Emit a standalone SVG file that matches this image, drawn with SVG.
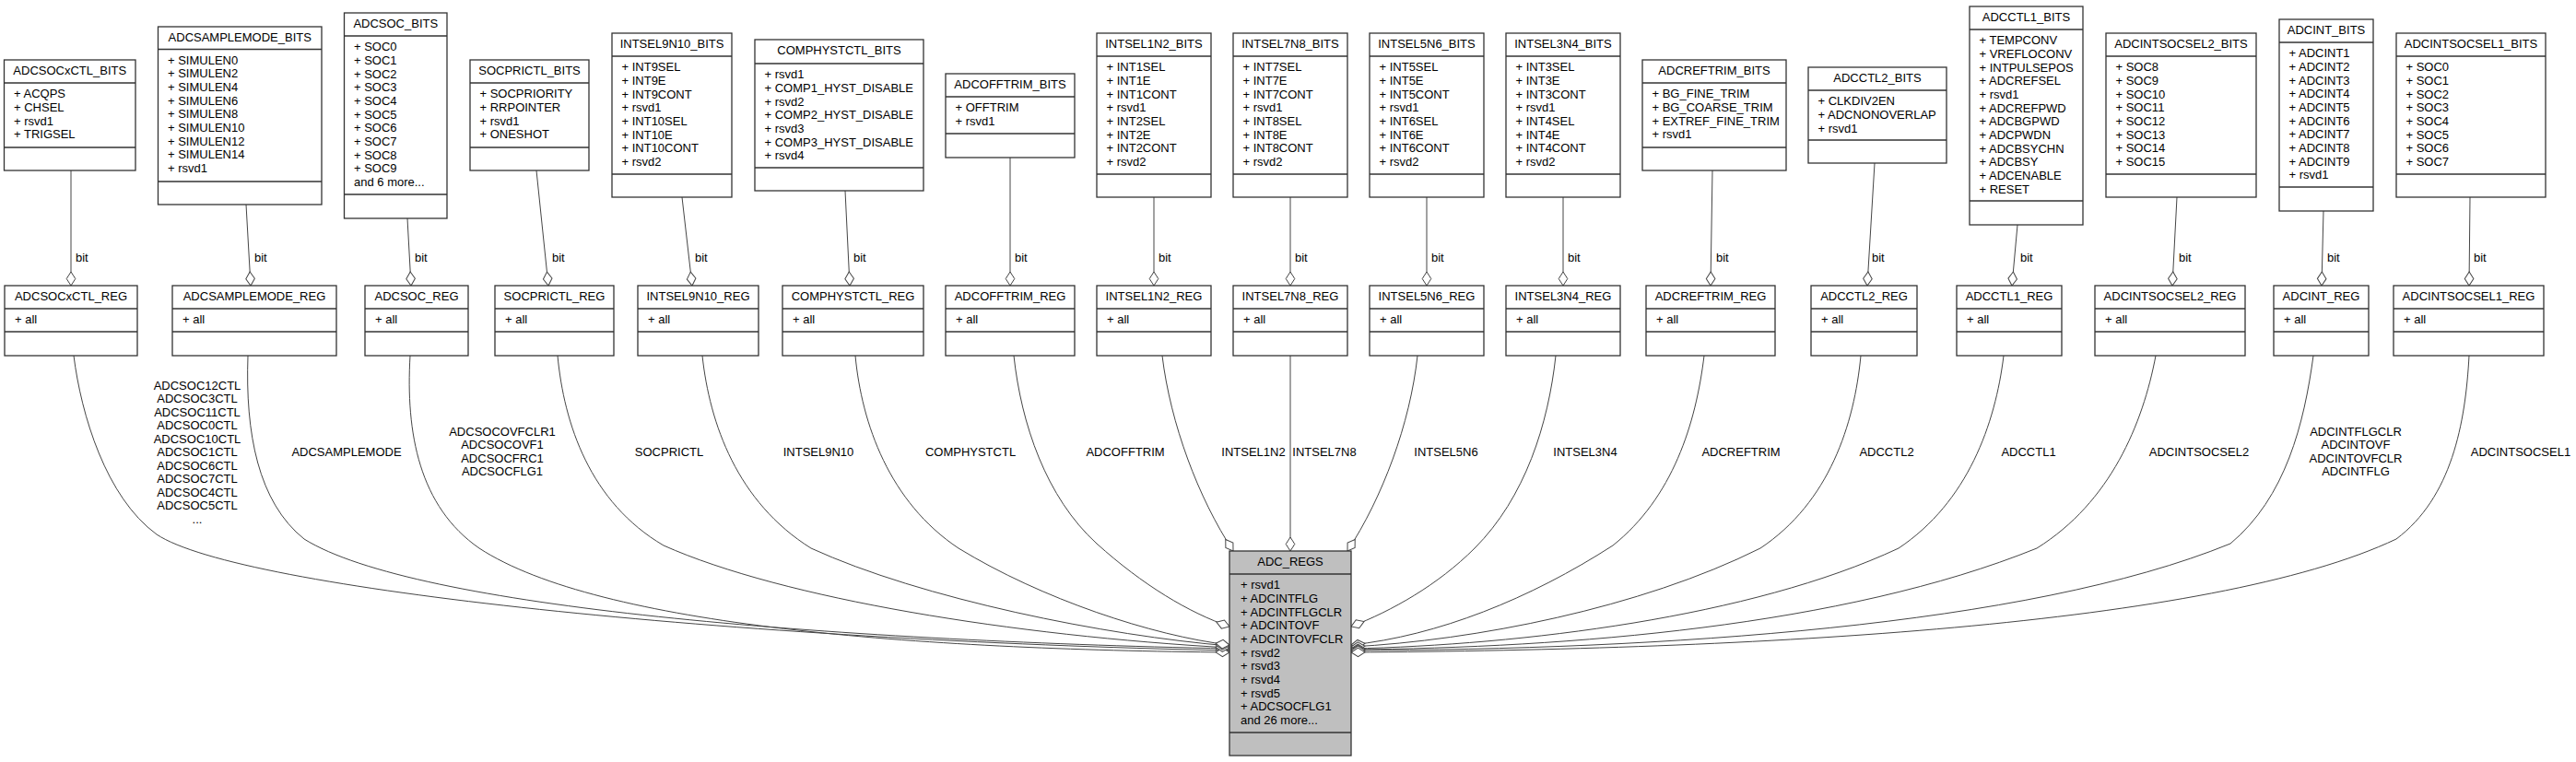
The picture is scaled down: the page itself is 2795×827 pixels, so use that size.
<svg xmlns="http://www.w3.org/2000/svg" width="2795" height="827" viewBox="0 0 2795 827">
<style>
text{font-family:"Liberation Sans",Arial,sans-serif;font-size:13px;fill:#000}
.t{text-anchor:middle}
.b{fill:#fff;stroke:#333;stroke-width:1.3}
.m{fill:#bfbfbf;stroke:#333;stroke-width:1.3}
.s{stroke:#333;stroke-width:1.3}
.e{fill:none;stroke:#454545;stroke-width:1;marker-end:url(#dia)}
</style>
<defs>
<marker id="dia" markerUnits="userSpaceOnUse" viewBox="-1 -6 17 12" markerWidth="17" markerHeight="12" refX="15" refY="0" orient="auto">
<path d="M0,0 L7.5,-4.8 L15,0 L7.5,4.8 Z" fill="#fff" stroke="#454545" stroke-width="1"/>
</marker>
</defs>
<rect width="2795" height="827" fill="#fff"/>

<g id="connectors">
<!-- BITS to REG -->
<path class="e" d="M77,185 L77,310"/>
<path class="e" d="M267,222 L272,310"/>
<path class="e" d="M442,237 L446,310"/>
<path class="e" d="M582,185 L595,310"/>
<path class="e" d="M740,214 L751,310"/>
<path class="e" d="M917,207 L922,310"/>
<path class="e" d="M1096,171 L1096,310"/>
<path class="e" d="M1252,214 L1252,310"/>
<path class="e" d="M1400,214 L1400,310"/>
<path class="e" d="M1548,214 L1548,310"/>
<path class="e" d="M1696,214 L1696,310"/>
<path class="e" d="M1858,185 L1856,310"/>
<path class="e" d="M2034,177 L2026,310"/>
<path class="e" d="M2189,244 L2183,310"/>
<path class="e" d="M2362,214 L2357,310"/>
<path class="e" d="M2521,229 L2519,310"/>
<path class="e" d="M2680,214 L2679,310"/>
<g>
<text x="82" y="284">bit</text>
<text x="276" y="284">bit</text>
<text x="450" y="284">bit</text>
<text x="599" y="284">bit</text>
<text x="754" y="284">bit</text>
<text x="926" y="284">bit</text>
<text x="1101" y="284">bit</text>
<text x="1257" y="284">bit</text>
<text x="1405" y="284">bit</text>
<text x="1553" y="284">bit</text>
<text x="1701" y="284">bit</text>
<text x="1862" y="284">bit</text>
<text x="2031" y="284">bit</text>
<text x="2192" y="284">bit</text>
<text x="2364" y="284">bit</text>
<text x="2525" y="284">bit</text>
<text x="2684" y="284">bit</text>
</g>
<!-- REG to ADC_REGS -->
<path class="e" d="M80,386 C88,450 115,540 170,580 C260,640 800,695 1334,706"/>
<path class="e" d="M269,386 C266,470 280,545 330,585 C450,660 900,695 1334,704"/>
<path class="e" d="M445,386 C440,470 455,550 520,595 C650,680 1000,705 1334,708"/>
<path class="e" d="M605,386 C612,460 640,545 720,592 C850,650 1100,690 1334,703"/>
<path class="e" d="M762,386 C770,460 800,545 880,595 C1000,650 1200,690 1334,701"/>
<path class="e" d="M928,386 C935,460 965,545 1040,595 C1130,650 1250,690 1334,700"/>
<path class="e" d="M1100,386 C1108,460 1135,540 1190,590 C1240,635 1290,665 1334,680"/>
<path class="e" d="M1261,386 C1270,460 1300,540 1338,598"/>
<path class="e" d="M1400,386 L1400,598"/>
<path class="e" d="M1538,386 C1530,460 1500,540 1462,598"/>
<path class="e" d="M1688,386 C1680,460 1655,540 1600,595 C1560,635 1510,663 1466,680"/>
<path class="e" d="M1849,386 C1840,460 1815,540 1750,592 C1660,650 1560,690 1466,700"/>
<path class="e" d="M2019,386 C2012,460 1985,545 1910,595 C1780,660 1600,695 1466,702"/>
<path class="e" d="M2174,386 C2165,460 2135,545 2060,595 C1900,670 1650,700 1466,704"/>
<path class="e" d="M2339,386 C2325,460 2290,545 2210,595 C2000,680 1700,703 1466,705"/>
<path class="e" d="M2510,386 C2500,460 2480,540 2420,590 C2200,680 1800,705 1466,706"/>
<path class="e" d="M2679,386 C2675,460 2660,540 2600,585 C2400,680 1900,705 1466,708"/>
<g class="t">
<text class="t" x="214"><tspan x="214" y="422.5">ADCSOC12CTL</tspan><tspan x="214" dy="14.5">ADCSOC3CTL</tspan><tspan x="214" dy="14.5">ADCSOC11CTL</tspan><tspan x="214" dy="14.5">ADCSOC0CTL</tspan><tspan x="214" dy="14.5">ADCSOC10CTL</tspan><tspan x="214" dy="14.5">ADCSOC1CTL</tspan><tspan x="214" dy="14.5">ADCSOC6CTL</tspan><tspan x="214" dy="14.5">ADCSOC7CTL</tspan><tspan x="214" dy="14.5">ADCSOC4CTL</tspan><tspan x="214" dy="14.5">ADCSOC5CTL</tspan><tspan x="214" dy="14.5">...</tspan></text>
<text class="t" x="376" y="494.5">ADCSAMPLEMODE</text>
<text class="t" x="545"><tspan x="545" y="472.5">ADCSOCOVFCLR1</tspan><tspan x="545" dy="14.5">ADCSOCOVF1</tspan><tspan x="545" dy="14.5">ADCSOCFRC1</tspan><tspan x="545" dy="14.5">ADCSOCFLG1</tspan></text>
<text class="t" x="726" y="494.5">SOCPRICTL</text>
<text class="t" x="888" y="494.5">INTSEL9N10</text>
<text class="t" x="1053" y="494.5">COMPHYSTCTL</text>
<text class="t" x="1221" y="494.5">ADCOFFTRIM</text>
<text class="t" x="1360" y="494.5">INTSEL1N2</text>
<text class="t" x="1437" y="494.5">INTSEL7N8</text>
<text class="t" x="1569" y="494.5">INTSEL5N6</text>
<text class="t" x="1720" y="494.5">INTSEL3N4</text>
<text class="t" x="1889" y="494.5">ADCREFTRIM</text>
<text class="t" x="2047" y="494.5">ADCCTL2</text>
<text class="t" x="2201" y="494.5">ADCCTL1</text>
<text class="t" x="2386" y="494.5">ADCINTSOCSEL2</text>
<text class="t" x="2556"><tspan x="2556" y="472.5">ADCINTFLGCLR</tspan><tspan x="2556" dy="14.5">ADCINTOVF</tspan><tspan x="2556" dy="14.5">ADCINTOVFCLR</tspan><tspan x="2556" dy="14.5">ADCINTFLG</tspan></text>
<text class="t" x="2735" y="494.5">ADCINTSOCSEL1</text>
</g>
</g>

<!-- BITS nodes -->
<g id="ADCSOCxCTL_BITS">
<rect class="b" x="4.5" y="65" width="142.5" height="120"/>
<line class="s" x1="4.5" y1="90" x2="147" y2="90"/><line class="s" x1="4.5" y1="160" x2="147" y2="160"/>
<text class="t" x="75.75" y="81.3">ADCSOCxCTL_BITS</text>
<text x="15"><tspan x="15" y="106.3">+ ACQPS</tspan><tspan x="15" dy="14.67">+ CHSEL</tspan><tspan x="15" dy="14.67">+ rsvd1</tspan><tspan x="15" dy="14.67">+ TRIGSEL</tspan></text>
</g>
<g id="ADCSAMPLEMODE_BITS">
<rect class="b" x="171.5" y="29" width="177.5" height="193"/>
<line class="s" x1="171.5" y1="53.5" x2="349" y2="53.5"/><line class="s" x1="171.5" y1="197" x2="349" y2="197"/>
<text class="t" x="260.25" y="45.3">ADCSAMPLEMODE_BITS</text>
<text x="182"><tspan x="182" y="69.8">+ SIMULEN0</tspan><tspan x="182" dy="14.67">+ SIMULEN2</tspan><tspan x="182" dy="14.67">+ SIMULEN4</tspan><tspan x="182" dy="14.67">+ SIMULEN6</tspan><tspan x="182" dy="14.67">+ SIMULEN8</tspan><tspan x="182" dy="14.67">+ SIMULEN10</tspan><tspan x="182" dy="14.67">+ SIMULEN12</tspan><tspan x="182" dy="14.67">+ SIMULEN14</tspan><tspan x="182" dy="14.67">+ rsvd1</tspan></text>
</g>
<g id="ADCSOC_BITS">
<rect class="b" x="373.5" y="14" width="111.5" height="223"/>
<line class="s" x1="373.5" y1="39" x2="485" y2="39"/><line class="s" x1="373.5" y1="211" x2="485" y2="211"/>
<text class="t" x="429.25" y="30.3">ADCSOC_BITS</text>
<text x="384"><tspan x="384" y="55.3">+ SOC0</tspan><tspan x="384" dy="14.67">+ SOC1</tspan><tspan x="384" dy="14.67">+ SOC2</tspan><tspan x="384" dy="14.67">+ SOC3</tspan><tspan x="384" dy="14.67">+ SOC4</tspan><tspan x="384" dy="14.67">+ SOC5</tspan><tspan x="384" dy="14.67">+ SOC6</tspan><tspan x="384" dy="14.67">+ SOC7</tspan><tspan x="384" dy="14.67">+ SOC8</tspan><tspan x="384" dy="14.67">+ SOC9</tspan><tspan x="384" dy="14.67">and 6 more...</tspan></text>
</g>
<g id="SOCPRICTL_BITS">
<rect class="b" x="510" y="65" width="129" height="120"/>
<line class="s" x1="510" y1="90" x2="639" y2="90"/><line class="s" x1="510" y1="160" x2="639" y2="160"/>
<text class="t" x="574.5" y="81.3">SOCPRICTL_BITS</text>
<text x="520.5"><tspan x="520.5" y="106.3">+ SOCPRIORITY</tspan><tspan x="520.5" dy="14.67">+ RRPOINTER</tspan><tspan x="520.5" dy="14.67">+ rsvd1</tspan><tspan x="520.5" dy="14.67">+ ONESHOT</tspan></text>
</g>
<g id="INTSEL9N10_BITS">
<rect class="b" x="664" y="36" width="130" height="178"/>
<line class="s" x1="664" y1="61" x2="794" y2="61"/><line class="s" x1="664" y1="189" x2="794" y2="189"/>
<text class="t" x="729" y="52.3">INTSEL9N10_BITS</text>
<text x="674.5"><tspan x="674.5" y="77.3">+ INT9SEL</tspan><tspan x="674.5" dy="14.67">+ INT9E</tspan><tspan x="674.5" dy="14.67">+ INT9CONT</tspan><tspan x="674.5" dy="14.67">+ rsvd1</tspan><tspan x="674.5" dy="14.67">+ INT10SEL</tspan><tspan x="674.5" dy="14.67">+ INT10E</tspan><tspan x="674.5" dy="14.67">+ INT10CONT</tspan><tspan x="674.5" dy="14.67">+ rsvd2</tspan></text>
</g>
<g id="COMPHYSTCTL_BITS">
<rect class="b" x="819" y="43" width="183" height="164"/>
<line class="s" x1="819" y1="69" x2="1002" y2="69"/><line class="s" x1="819" y1="182" x2="1002" y2="182"/>
<text class="t" x="910.5" y="59.3">COMPHYSTCTL_BITS</text>
<text x="829.5"><tspan x="829.5" y="85.3">+ rsvd1</tspan><tspan x="829.5" dy="14.67">+ COMP1_HYST_DISABLE</tspan><tspan x="829.5" dy="14.67">+ rsvd2</tspan><tspan x="829.5" dy="14.67">+ COMP2_HYST_DISABLE</tspan><tspan x="829.5" dy="14.67">+ rsvd3</tspan><tspan x="829.5" dy="14.67">+ COMP3_HYST_DISABLE</tspan><tspan x="829.5" dy="14.67">+ rsvd4</tspan></text>
</g>
<g id="ADCOFFTRIM_BITS">
<rect class="b" x="1026" y="80" width="140" height="91"/>
<line class="s" x1="1026" y1="105" x2="1166" y2="105"/><line class="s" x1="1026" y1="145" x2="1166" y2="145"/>
<text class="t" x="1096" y="96.3">ADCOFFTRIM_BITS</text>
<text x="1036.5"><tspan x="1036.5" y="121.3">+ OFFTRIM</tspan><tspan x="1036.5" dy="14.67">+ rsvd1</tspan></text>
</g>
<g id="INTSEL1N2_BITS">
<rect class="b" x="1190" y="36" width="124" height="178"/>
<line class="s" x1="1190" y1="61" x2="1314" y2="61"/><line class="s" x1="1190" y1="189" x2="1314" y2="189"/>
<text class="t" x="1252" y="52.3">INTSEL1N2_BITS</text>
<text x="1200.5"><tspan x="1200.5" y="77.3">+ INT1SEL</tspan><tspan x="1200.5" dy="14.67">+ INT1E</tspan><tspan x="1200.5" dy="14.67">+ INT1CONT</tspan><tspan x="1200.5" dy="14.67">+ rsvd1</tspan><tspan x="1200.5" dy="14.67">+ INT2SEL</tspan><tspan x="1200.5" dy="14.67">+ INT2E</tspan><tspan x="1200.5" dy="14.67">+ INT2CONT</tspan><tspan x="1200.5" dy="14.67">+ rsvd2</tspan></text>
</g>
<g id="INTSEL7N8_BITS">
<rect class="b" x="1338" y="36" width="124" height="178"/>
<line class="s" x1="1338" y1="61" x2="1462" y2="61"/><line class="s" x1="1338" y1="189" x2="1462" y2="189"/>
<text class="t" x="1400" y="52.3">INTSEL7N8_BITS</text>
<text x="1348.5"><tspan x="1348.5" y="77.3">+ INT7SEL</tspan><tspan x="1348.5" dy="14.67">+ INT7E</tspan><tspan x="1348.5" dy="14.67">+ INT7CONT</tspan><tspan x="1348.5" dy="14.67">+ rsvd1</tspan><tspan x="1348.5" dy="14.67">+ INT8SEL</tspan><tspan x="1348.5" dy="14.67">+ INT8E</tspan><tspan x="1348.5" dy="14.67">+ INT8CONT</tspan><tspan x="1348.5" dy="14.67">+ rsvd2</tspan></text>
</g>
<g id="INTSEL5N6_BITS">
<rect class="b" x="1486" y="36" width="124" height="178"/>
<line class="s" x1="1486" y1="61" x2="1610" y2="61"/><line class="s" x1="1486" y1="189" x2="1610" y2="189"/>
<text class="t" x="1548" y="52.3">INTSEL5N6_BITS</text>
<text x="1496.5"><tspan x="1496.5" y="77.3">+ INT5SEL</tspan><tspan x="1496.5" dy="14.67">+ INT5E</tspan><tspan x="1496.5" dy="14.67">+ INT5CONT</tspan><tspan x="1496.5" dy="14.67">+ rsvd1</tspan><tspan x="1496.5" dy="14.67">+ INT6SEL</tspan><tspan x="1496.5" dy="14.67">+ INT6E</tspan><tspan x="1496.5" dy="14.67">+ INT6CONT</tspan><tspan x="1496.5" dy="14.67">+ rsvd2</tspan></text>
</g>
<g id="INTSEL3N4_BITS">
<rect class="b" x="1634" y="36" width="124" height="178"/>
<line class="s" x1="1634" y1="61" x2="1758" y2="61"/><line class="s" x1="1634" y1="189" x2="1758" y2="189"/>
<text class="t" x="1696" y="52.3">INTSEL3N4_BITS</text>
<text x="1644.5"><tspan x="1644.5" y="77.3">+ INT3SEL</tspan><tspan x="1644.5" dy="14.67">+ INT3E</tspan><tspan x="1644.5" dy="14.67">+ INT3CONT</tspan><tspan x="1644.5" dy="14.67">+ rsvd1</tspan><tspan x="1644.5" dy="14.67">+ INT4SEL</tspan><tspan x="1644.5" dy="14.67">+ INT4E</tspan><tspan x="1644.5" dy="14.67">+ INT4CONT</tspan><tspan x="1644.5" dy="14.67">+ rsvd2</tspan></text>
</g>
<g id="ADCREFTRIM_BITS">
<rect class="b" x="1782" y="65" width="156" height="120"/>
<line class="s" x1="1782" y1="90" x2="1938" y2="90"/><line class="s" x1="1782" y1="160" x2="1938" y2="160"/>
<text class="t" x="1860" y="81.3">ADCREFTRIM_BITS</text>
<text x="1792.5"><tspan x="1792.5" y="106.3">+ BG_FINE_TRIM</tspan><tspan x="1792.5" dy="14.67">+ BG_COARSE_TRIM</tspan><tspan x="1792.5" dy="14.67">+ EXTREF_FINE_TRIM</tspan><tspan x="1792.5" dy="14.67">+ rsvd1</tspan></text>
</g>
<g id="ADCCTL2_BITS">
<rect class="b" x="1962" y="73" width="150" height="104"/>
<line class="s" x1="1962" y1="98" x2="2112" y2="98"/><line class="s" x1="1962" y1="152" x2="2112" y2="152"/>
<text class="t" x="2037" y="89.3">ADCCTL2_BITS</text>
<text x="1972.5"><tspan x="1972.5" y="114.3">+ CLKDIV2EN</tspan><tspan x="1972.5" dy="14.67">+ ADCNONOVERLAP</tspan><tspan x="1972.5" dy="14.67">+ rsvd1</tspan></text>
</g>
<g id="ADCCTL1_BITS">
<rect class="b" x="2137" y="7" width="123" height="237"/>
<line class="s" x1="2137" y1="32" x2="2260" y2="32"/><line class="s" x1="2137" y1="218" x2="2260" y2="218"/>
<text class="t" x="2198.5" y="23.3">ADCCTL1_BITS</text>
<text x="2147.5"><tspan x="2147.5" y="48.3">+ TEMPCONV</tspan><tspan x="2147.5" dy="14.67">+ VREFLOCONV</tspan><tspan x="2147.5" dy="14.67">+ INTPULSEPOS</tspan><tspan x="2147.5" dy="14.67">+ ADCREFSEL</tspan><tspan x="2147.5" dy="14.67">+ rsvd1</tspan><tspan x="2147.5" dy="14.67">+ ADCREFPWD</tspan><tspan x="2147.5" dy="14.67">+ ADCBGPWD</tspan><tspan x="2147.5" dy="14.67">+ ADCPWDN</tspan><tspan x="2147.5" dy="14.67">+ ADCBSYCHN</tspan><tspan x="2147.5" dy="14.67">+ ADCBSY</tspan><tspan x="2147.5" dy="14.67">+ ADCENABLE</tspan><tspan x="2147.5" dy="14.67">+ RESET</tspan></text>
</g>
<g id="ADCINTSOCSEL2_BITS">
<rect class="b" x="2285" y="36" width="163" height="178"/>
<line class="s" x1="2285" y1="61" x2="2448" y2="61"/><line class="s" x1="2285" y1="189" x2="2448" y2="189"/>
<text class="t" x="2366.5" y="52.3">ADCINTSOCSEL2_BITS</text>
<text x="2295.5"><tspan x="2295.5" y="77.3">+ SOC8</tspan><tspan x="2295.5" dy="14.67">+ SOC9</tspan><tspan x="2295.5" dy="14.67">+ SOC10</tspan><tspan x="2295.5" dy="14.67">+ SOC11</tspan><tspan x="2295.5" dy="14.67">+ SOC12</tspan><tspan x="2295.5" dy="14.67">+ SOC13</tspan><tspan x="2295.5" dy="14.67">+ SOC14</tspan><tspan x="2295.5" dy="14.67">+ SOC15</tspan></text>
</g>
<g id="ADCINT_BITS">
<rect class="b" x="2473" y="21" width="102" height="208"/>
<line class="s" x1="2473" y1="46" x2="2575" y2="46"/><line class="s" x1="2473" y1="203" x2="2575" y2="203"/>
<text class="t" x="2524" y="37.3">ADCINT_BITS</text>
<text x="2483.5"><tspan x="2483.5" y="62.3">+ ADCINT1</tspan><tspan x="2483.5" dy="14.67">+ ADCINT2</tspan><tspan x="2483.5" dy="14.67">+ ADCINT3</tspan><tspan x="2483.5" dy="14.67">+ ADCINT4</tspan><tspan x="2483.5" dy="14.67">+ ADCINT5</tspan><tspan x="2483.5" dy="14.67">+ ADCINT6</tspan><tspan x="2483.5" dy="14.67">+ ADCINT7</tspan><tspan x="2483.5" dy="14.67">+ ADCINT8</tspan><tspan x="2483.5" dy="14.67">+ ADCINT9</tspan><tspan x="2483.5" dy="14.67">+ rsvd1</tspan></text>
</g>
<g id="ADCINTSOCSEL1_BITS">
<rect class="b" x="2600" y="36" width="162" height="178"/>
<line class="s" x1="2600" y1="61" x2="2762" y2="61"/><line class="s" x1="2600" y1="189" x2="2762" y2="189"/>
<text class="t" x="2681" y="52.3">ADCINTSOCSEL1_BITS</text>
<text x="2610.5"><tspan x="2610.5" y="77.3">+ SOC0</tspan><tspan x="2610.5" dy="14.67">+ SOC1</tspan><tspan x="2610.5" dy="14.67">+ SOC2</tspan><tspan x="2610.5" dy="14.67">+ SOC3</tspan><tspan x="2610.5" dy="14.67">+ SOC4</tspan><tspan x="2610.5" dy="14.67">+ SOC5</tspan><tspan x="2610.5" dy="14.67">+ SOC6</tspan><tspan x="2610.5" dy="14.67">+ SOC7</tspan></text>
</g>

<!-- REG nodes -->
<g id="ADCSOCxCTL_REG"><rect class="b" x="5" y="310" width="144" height="76"/><line class="s" x1="5" y1="335" x2="149" y2="335"/><line class="s" x1="5" y1="360" x2="149" y2="360"/><text class="t" x="77" y="326.3">ADCSOCxCTL_REG</text><text x="16" y="351.3">+ all</text></g>
<g id="ADCSAMPLEMODE_REG"><rect class="b" x="187" y="310" width="178" height="76"/><line class="s" x1="187" y1="335" x2="365" y2="335"/><line class="s" x1="187" y1="360" x2="365" y2="360"/><text class="t" x="276" y="326.3">ADCSAMPLEMODE_REG</text><text x="198" y="351.3">+ all</text></g>
<g id="ADCSOC_REG"><rect class="b" x="396" y="310" width="112" height="76"/><line class="s" x1="396" y1="335" x2="508" y2="335"/><line class="s" x1="396" y1="360" x2="508" y2="360"/><text class="t" x="452" y="326.3">ADCSOC_REG</text><text x="407" y="351.3">+ all</text></g>
<g id="SOCPRICTL_REG"><rect class="b" x="537" y="310" width="129" height="76"/><line class="s" x1="537" y1="335" x2="666" y2="335"/><line class="s" x1="537" y1="360" x2="666" y2="360"/><text class="t" x="601.5" y="326.3">SOCPRICTL_REG</text><text x="548" y="351.3">+ all</text></g>
<g id="INTSEL9N10_REG"><rect class="b" x="692" y="310" width="131" height="76"/><line class="s" x1="692" y1="335" x2="823" y2="335"/><line class="s" x1="692" y1="360" x2="823" y2="360"/><text class="t" x="757.5" y="326.3">INTSEL9N10_REG</text><text x="703" y="351.3">+ all</text></g>
<g id="COMPHYSTCTL_REG"><rect class="b" x="849" y="310" width="153" height="76"/><line class="s" x1="849" y1="335" x2="1002" y2="335"/><line class="s" x1="849" y1="360" x2="1002" y2="360"/><text class="t" x="925.5" y="326.3">COMPHYSTCTL_REG</text><text x="860" y="351.3">+ all</text></g>
<g id="ADCOFFTRIM_REG"><rect class="b" x="1026" y="310" width="140" height="76"/><line class="s" x1="1026" y1="335" x2="1166" y2="335"/><line class="s" x1="1026" y1="360" x2="1166" y2="360"/><text class="t" x="1096" y="326.3">ADCOFFTRIM_REG</text><text x="1037" y="351.3">+ all</text></g>
<g id="INTSEL1N2_REG"><rect class="b" x="1190" y="310" width="124" height="76"/><line class="s" x1="1190" y1="335" x2="1314" y2="335"/><line class="s" x1="1190" y1="360" x2="1314" y2="360"/><text class="t" x="1252" y="326.3">INTSEL1N2_REG</text><text x="1201" y="351.3">+ all</text></g>
<g id="INTSEL7N8_REG"><rect class="b" x="1338" y="310" width="124" height="76"/><line class="s" x1="1338" y1="335" x2="1462" y2="335"/><line class="s" x1="1338" y1="360" x2="1462" y2="360"/><text class="t" x="1400" y="326.3">INTSEL7N8_REG</text><text x="1349" y="351.3">+ all</text></g>
<g id="INTSEL5N6_REG"><rect class="b" x="1486" y="310" width="124" height="76"/><line class="s" x1="1486" y1="335" x2="1610" y2="335"/><line class="s" x1="1486" y1="360" x2="1610" y2="360"/><text class="t" x="1548" y="326.3">INTSEL5N6_REG</text><text x="1497" y="351.3">+ all</text></g>
<g id="INTSEL3N4_REG"><rect class="b" x="1634" y="310" width="124" height="76"/><line class="s" x1="1634" y1="335" x2="1758" y2="335"/><line class="s" x1="1634" y1="360" x2="1758" y2="360"/><text class="t" x="1696" y="326.3">INTSEL3N4_REG</text><text x="1645" y="351.3">+ all</text></g>
<g id="ADCREFTRIM_REG"><rect class="b" x="1786" y="310" width="140" height="76"/><line class="s" x1="1786" y1="335" x2="1926" y2="335"/><line class="s" x1="1786" y1="360" x2="1926" y2="360"/><text class="t" x="1856" y="326.3">ADCREFTRIM_REG</text><text x="1797" y="351.3">+ all</text></g>
<g id="ADCCTL2_REG"><rect class="b" x="1965" y="310" width="115" height="76"/><line class="s" x1="1965" y1="335" x2="2080" y2="335"/><line class="s" x1="1965" y1="360" x2="2080" y2="360"/><text class="t" x="2022.5" y="326.3">ADCCTL2_REG</text><text x="1976" y="351.3">+ all</text></g>
<g id="ADCCTL1_REG"><rect class="b" x="2123" y="310" width="114" height="76"/><line class="s" x1="2123" y1="335" x2="2237" y2="335"/><line class="s" x1="2123" y1="360" x2="2237" y2="360"/><text class="t" x="2180" y="326.3">ADCCTL1_REG</text><text x="2134" y="351.3">+ all</text></g>
<g id="ADCINTSOCSEL2_REG"><rect class="b" x="2273" y="310" width="163" height="76"/><line class="s" x1="2273" y1="335" x2="2436" y2="335"/><line class="s" x1="2273" y1="360" x2="2436" y2="360"/><text class="t" x="2354.5" y="326.3">ADCINTSOCSEL2_REG</text><text x="2284" y="351.3">+ all</text></g>
<g id="ADCINT_REG"><rect class="b" x="2467" y="310" width="103" height="76"/><line class="s" x1="2467" y1="335" x2="2570" y2="335"/><line class="s" x1="2467" y1="360" x2="2570" y2="360"/><text class="t" x="2518.5" y="326.3">ADCINT_REG</text><text x="2478" y="351.3">+ all</text></g>
<g id="ADCINTSOCSEL1_REG"><rect class="b" x="2597" y="310" width="163" height="76"/><line class="s" x1="2597" y1="335" x2="2760" y2="335"/><line class="s" x1="2597" y1="360" x2="2760" y2="360"/><text class="t" x="2678.5" y="326.3">ADCINTSOCSEL1_REG</text><text x="2608" y="351.3">+ all</text></g>

<g id="ADC_REGS">
<rect class="m" x="1334" y="598" width="132" height="222"/>
<line class="s" x1="1334" y1="623" x2="1466" y2="623"/><line class="s" x1="1334" y1="795" x2="1466" y2="795"/>
<text class="t" x="1400" y="614.3">ADC_REGS</text>
<text x="1346"><tspan x="1346" y="639.3">+ rsvd1</tspan><tspan x="1346" dy="14.67">+ ADCINTFLG</tspan><tspan x="1346" dy="14.67">+ ADCINTFLGCLR</tspan><tspan x="1346" dy="14.67">+ ADCINTOVF</tspan><tspan x="1346" dy="14.67">+ ADCINTOVFCLR</tspan><tspan x="1346" dy="14.67">+ rsvd2</tspan><tspan x="1346" dy="14.67">+ rsvd3</tspan><tspan x="1346" dy="14.67">+ rsvd4</tspan><tspan x="1346" dy="14.67">+ rsvd5</tspan><tspan x="1346" dy="14.67">+ ADCSOCFLG1</tspan><tspan x="1346" dy="14.67">and 26 more...</tspan></text>
</g>
</svg>
